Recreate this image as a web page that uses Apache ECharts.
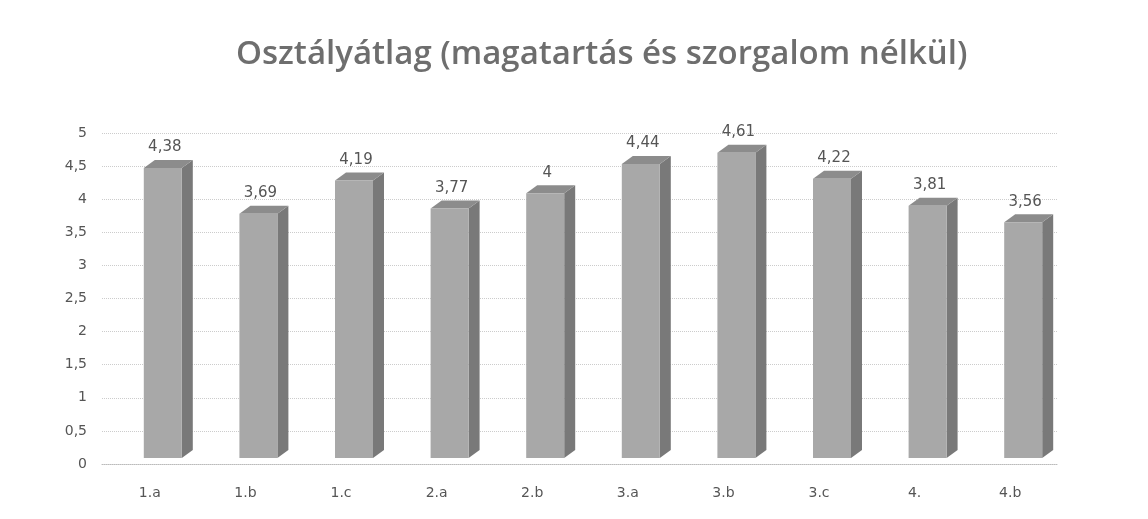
<!DOCTYPE html>
<html>
<head>
<meta charset="utf-8">
<script src="https://cdn.jsdelivr.net/npm/echarts@6/dist/echarts.min.js"></script>
<style>
  html, body { margin: 0; padding: 0; background: #fff; }
  #chart { width: 1148px; height: 519px; }
</style>
</head>
<body>
<div id="chart"></div>
<script>
const categories = ["1.a", "1.b", "1.c", "2.a", "2.b", "3.a", "3.b", "3.c", "4.", "4.b"];
const values = [4.38, 3.69, 4.19, 3.77, 4, 4.44, 4.61, 4.22, 3.81, 3.56];

const fmt = v => String(v).replace(".", ",");

let myChart = echarts.init(document.getElementById("chart"));

// 3D-ish oszlop: elulso lap + oldal + teteje
function renderBar(params, api) {
  const i = api.value(0);
  const v = api.value(1);
  const top = api.coord([i, v]);
  const base = api.coord([i, 0]);
  const w = 38, dx = 11, dy = 8, off = 13;
  const x0 = top[0] - w / 2 + off;
  const x1 = x0 + w;
  const yb = base[1] - 6;
  const yt = top[1] - 6;
  return {
    type: "group",
    children: [
      {
        type: "polygon",
        shape: { points: [[x1, yt], [x1 + dx, yt - dy], [x1 + dx, yb - dy], [x1, yb]] },
        style: { fill: "#797979" },
      },
      {
        type: "polygon",
        shape: { points: [[x0, yt], [x0 + dx, yt - dy], [x1 + dx, yt - dy], [x1, yt]] },
        style: { fill: "#8c8c8c" },
      },
      {
        type: "rect",
        shape: { x: x0, y: yt, width: w, height: yb - yt },
        style: { fill: "#a8a8a8" },
      },
      {
        type: "text",
        style: {
          text: fmt(v),
          x: x0 + w / 2 + 2,
          y: yt - dy - 5,
          align: "center",
          verticalAlign: "bottom",
          fill: "#555",
          font: "15px 'DejaVu Sans', sans-serif",
        },
      },
    ],
  };
}

myChart.setOption({
  animation: false,
  title: {
    text: "Osztályátlag (magatartás és szorgalom nélkül)",
    left: 231,
    top: 33,
    textStyle: {
      fontFamily: "'Open Sans', sans-serif",
      fontSize: 33,
      fontWeight: 600,
      color: "#6e6e6e",
    },
  },
  grid: {
    left: 102,
    right: 90,
    top: 133,
    bottom: 55,
  },
  xAxis: {
    type: "category",
    data: categories,
    axisTick: { show: false },
    axisLine: {
      lineStyle: { color: "#bbb", type: "dotted", width: 1 },
    },
    axisLabel: {
      color: "#555",
      fontSize: 14,
      margin: 22,
      fontFamily: "'DejaVu Sans', sans-serif",
    },
  },
  yAxis: {
    type: "value",
    min: 0,
    max: 5,
    interval: 0.5,
    axisTick: { show: false },
    axisLine: { show: false },
    axisLabel: {
      color: "#555",
      fontSize: 14,
      margin: 15,
      fontFamily: "'DejaVu Sans', sans-serif",
      formatter: v => fmt(v),
    },
    splitLine: {
      show: true,
      lineStyle: { color: "#cccccc", type: "dotted", width: 1 },
    },
  },
  series: [
    {
      type: "custom",
      renderItem: renderBar,
      encode: { x: 0, y: 1 },
      data: values.map((v, i) => [i, v]),
    },
  ],
});
</script>
</body>
</html>
